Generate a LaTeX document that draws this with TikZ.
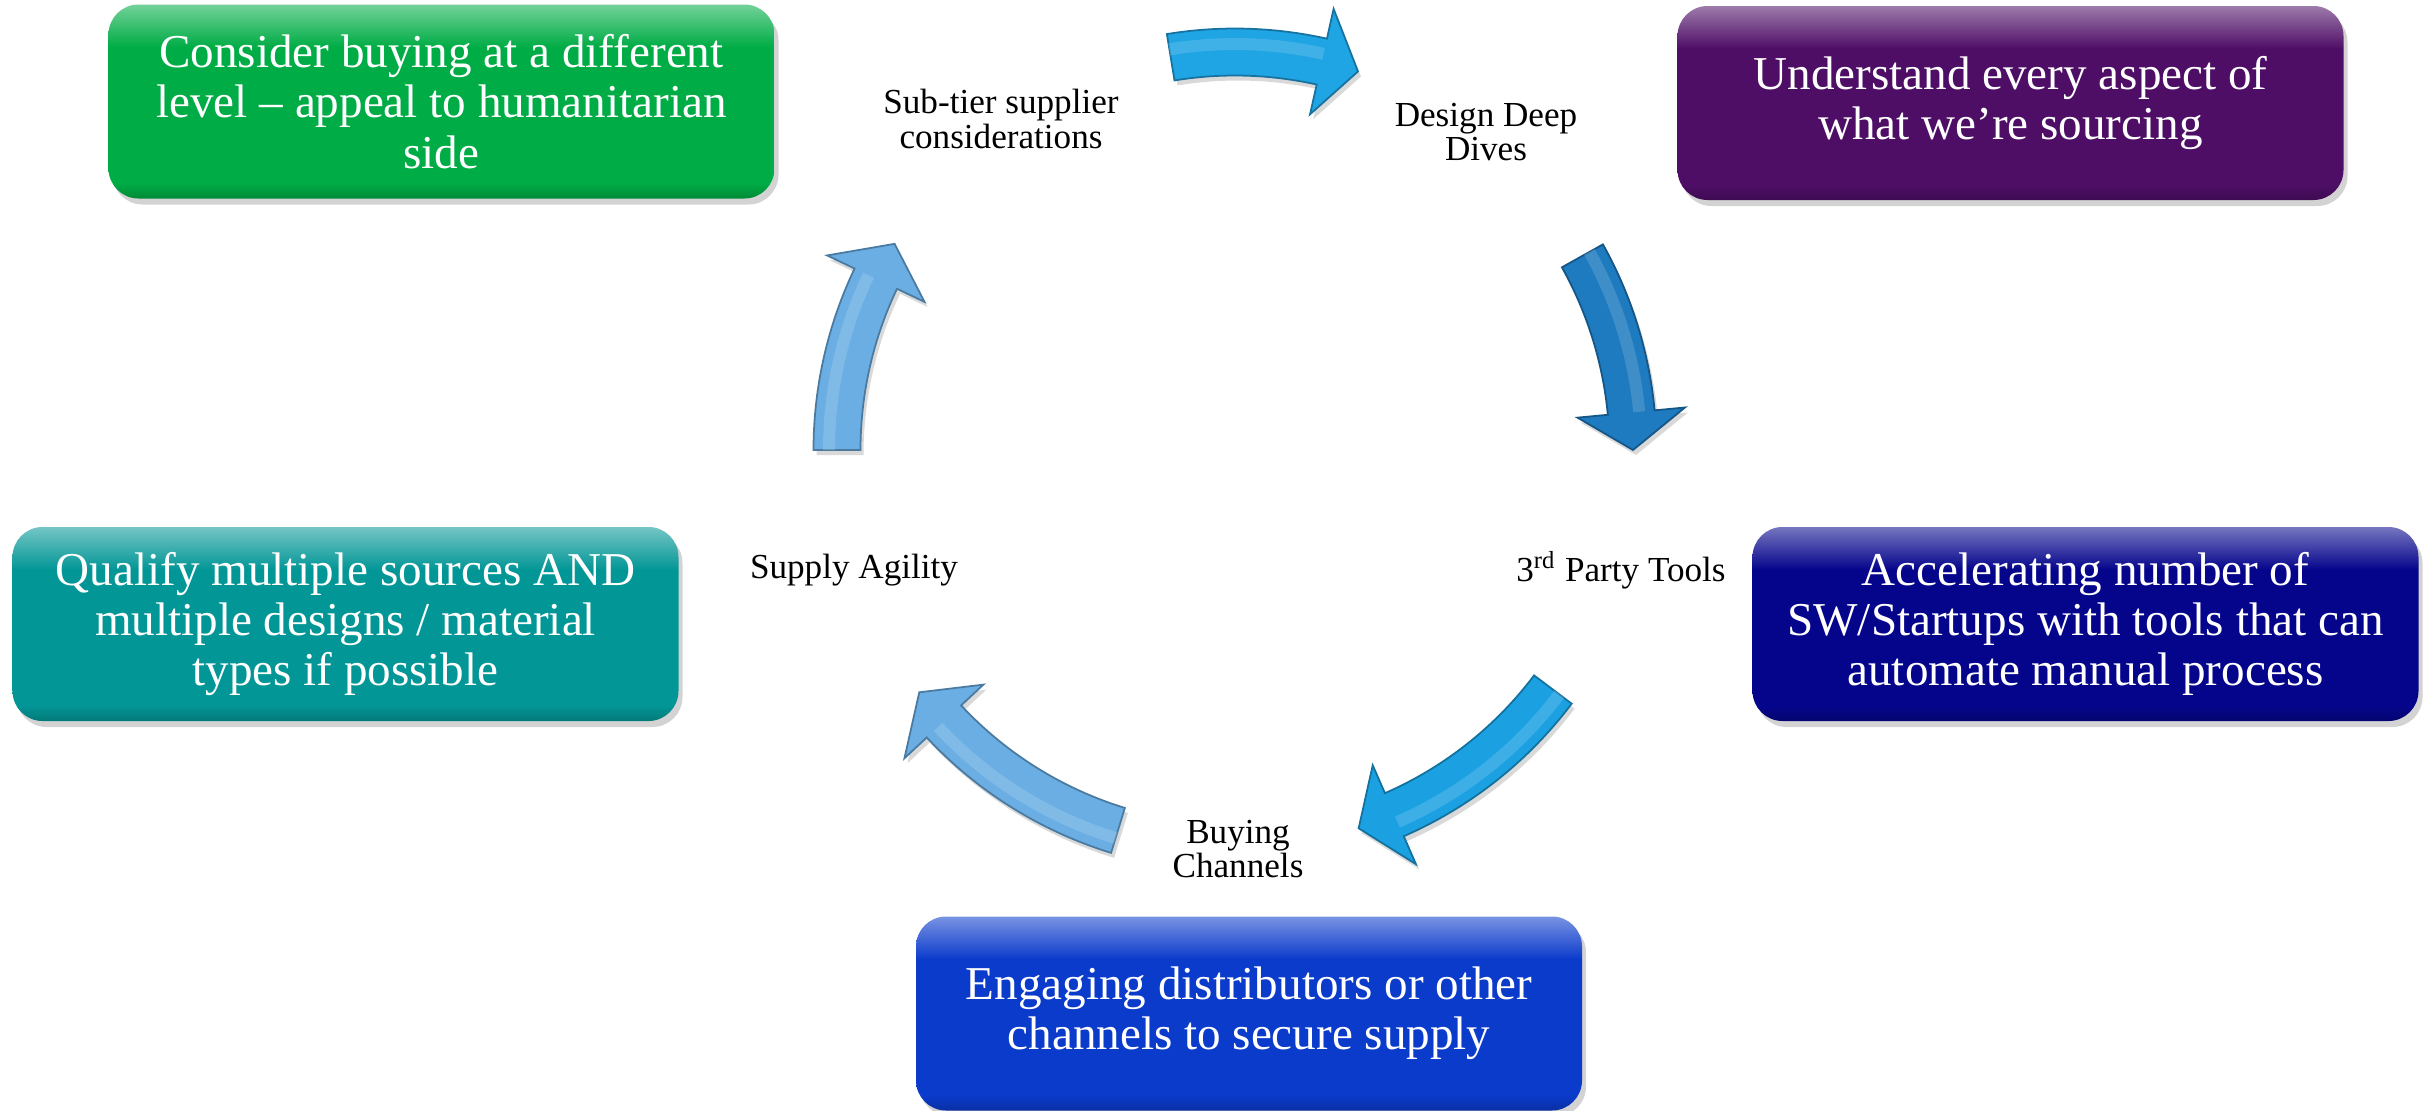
\documentclass[tikz,border=0pt]{standalone}
\usepackage{fontspec}
\setmainfont{Liberation Serif}
\usetikzlibrary{shadows}

\definecolor{greenbox}{HTML}{00AC45}
\definecolor{purplebox}{HTML}{4E0E66}
\definecolor{tealbox}{HTML}{039696}
\definecolor{navybox}{HTML}{05058C}
\definecolor{bluebox}{HTML}{0B3BCB}
\definecolor{arrowcyan}{HTML}{1FA4E4}
\definecolor{arrowsteel}{HTML}{1E7BBF}
\definecolor{arrowsky}{HTML}{1BA1E2}
\definecolor{arrowpale}{HTML}{6AAEE3}

% box shading: light rim on top, flat body, darker foot
\pgfdeclareverticalshading[boxtop,boxmid,boxbot]{bevel}{100bp}{%
  color(0bp)=(boxbot); color(25bp)=(boxbot); color(29bp)=(boxmid);
  color(64bp)=(boxmid); color(75bp)=(boxtop); color(100bp)=(boxtop)}

\newcommand{\boxfont}{\fontsize{13.4pt}{14.3pt}\selectfont}
\newcommand{\labelfont}{\fontsize{10pt}{9.7pt}\selectfont}

% radii of the cycle arrows (cm)
\newcommand{\ringr}{3.98}
\newcommand{\ringout}{4.215}
\newcommand{\ringin}{3.745}
\newcommand{\ringhi}{4.06}
\newcommand{\headout}{4.52}
\newcommand{\headin}{3.44}

% curved block arrow: tail angle, head base angle, tip angle, colour
\newcommand{\cyclearrow}[4]{%
  \filldraw[fill=#4, draw=#4!70!black, line width=0.5pt,
    drop shadow={opacity=0.3, shadow xshift=0.03cm, shadow yshift=-0.05cm}]
    (#1:\ringout) arc[start angle=#1, end angle=#2, radius=\ringout]
    -- (#2:\headout) -- (#3:\ringr) -- (#2:\headin)
    -- (#2:\ringin) arc[start angle=#2, end angle=#1, radius=\ringin] -- cycle;
  \draw[#4!50!white, line width=0.12cm, opacity=0.3]
    (#1:\ringhi) arc[start angle=#1, end angle=#2, radius=\ringhi];
}

\tikzset{
  card/.style={rounded corners=0.3cm, minimum width=6.66cm, minimum height=1.94cm,
    inner sep=0pt, align=center, text=white, font=\boxfont,
    /utils/exec={\colorlet{boxmid}{#1}\colorlet{boxtop}{#1!55!white}\colorlet{boxbot}{#1!80!black}},
    shade, shading=bevel,
    drop shadow={opacity=0.35, shadow xshift=0.04cm, shadow yshift=-0.06cm}},
  steplabel/.style={align=center, font=\labelfont, inner sep=0pt}
}

\begin{document}
\begin{tikzpicture}
	\useasboundingbox (0,0) rectangle (24.3,11.1);

	% boxes
	\node[card=greenbox] (buylevel) at (4.415,10.085) {Consider buying at a different\\ level -- appeal to humanitarian\\ side};
	\node[card=purplebox] (sourcing) at (20.105,10.07) {Understand every aspect of\\ what we're sourcing};
	\node[card=tealbox] (multisource) at (3.455,4.86) {Qualify multiple sources AND\\ multiple designs / material\\ types if possible};
	\node[card=navybox] (startups) at (20.855,4.86) {Accelerating number of\\ SW/Startups with tools that can\\ automate manual process};
	\node[card=bluebox] (distrib) at (12.49,0.965) {Engaging distributors or other\\ channels to secure supply};

	% the cycle
	\begin{scope}[shift={(12.35,6.6)}]
		\cyclearrow{99.3}{77.4}{72}{arrowcyan}
		\cyclearrow{29.2}{5.4}{0}{arrowsteel}
		\cyclearrow{-37}{-66.4}{-71.9}{arrowsky}
		\cyclearrow{-107.1}{-137}{-142.5}{arrowpale}
		\cyclearrow{180}{154.5}{148.8}{arrowpale}
	\end{scope}

	\node[steplabel] (subtier) at (10.01,9.91) {Sub-tier supplier\\ considerations};
	\node[steplabel] (deepdive) at (14.86,9.78) {Design Deep\\ Dives};
	\node[steplabel] (tools) at (16.21,5.40) {3\textsuperscript{rd} Party Tools};
	\node[steplabel] (channels) at (12.38,2.61) {Buying\\ Channels};
	\node[steplabel] (agility) at (8.54,5.40) {Supply Agility};
\end{tikzpicture}
\end{document}
